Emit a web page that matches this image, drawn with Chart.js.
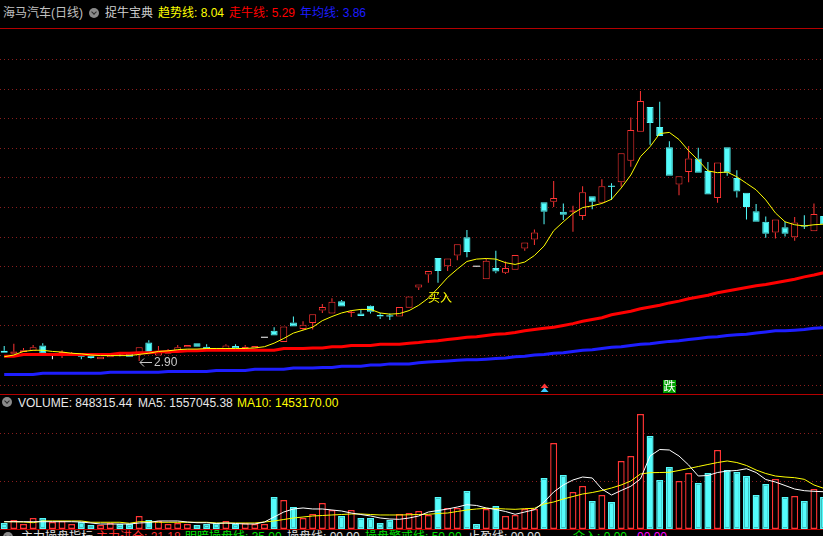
<!DOCTYPE html>
<html>
<head>
<meta charset="utf-8">
<script src="https://cdn.jsdelivr.net/npm/chart.js@4.4.1/dist/chart.umd.min.js"></script>
<style>
  html, body { margin: 0; padding: 0; background: #000; width: 823px; height: 536px; overflow: hidden; }
  body { position: relative; font: 12px "Liberation Sans", "Noto Sans CJK SC", sans-serif; color: #c0c0c0; }
  .row { position: absolute; left: 0; width: 823px; height: 14px; line-height: 14px; white-space: nowrap; }
  .row span { position: absolute; top: 0; }
  .hline { position: absolute; left: 0; width: 823px; height: 1px; background: #b40000; }
  .icon { position: absolute; width: 10px; height: 10px; border-radius: 50%; background: #8a8a8a; }
  .icon::after { content: ''; position: absolute; left: 3px; top: 1.5px; width: 3px; height: 3px;
    border-right: 1.5px solid #2a2a2a; border-bottom: 1.5px solid #2a2a2a; transform: rotate(45deg); }
  #priceBox { position: absolute; left: 0; top: 29px; }
  #volBox { position: absolute; left: 0; top: 395px; }
</style>
</head>
<body>
<div class="row" style="top:6px">
  <span style="left:3px;color:#c0c0c0">海马汽车(日线)</span>
  <i class="icon" style="left:89px;top:2px"></i>
  <span style="left:105px;color:#d0d0d0">捉牛宝典</span>
  <span style="left:158px;color:#ffff00">趋势线: 8.04</span>
  <span style="left:229px;color:#ff0000">走牛线: 5.29</span>
  <span style="left:300px;color:#1c1cff">年均线: 3.86</span>
</div>
<div class="hline" style="top:28px"></div>
<canvas id="priceBox" width="823" height="364"></canvas>
<div class="hline" style="top:394px"></div>
<div class="row" style="top:396px">
  <i class="icon" style="left:2px;top:1px"></i>
  <span style="left:18px;color:#e8e8e8">VOLUME: 848315.44</span>
  <span style="left:138px;color:#e8e8e8">MA5: 1557045.38</span>
  <span style="left:237px;color:#ffff00">MA10: 1453170.00</span>
</div>
<canvas id="volBox" width="823" height="134"></canvas>
<div class="hline" style="top:529px"></div>
<div class="row" style="top:530px">
  <i class="icon" style="left:3px;top:2px"></i>
  <span style="left:21px;color:#e0e0e0">主力操盘指标</span>
  <span style="left:96px;color:#ff3030">主力进仓: 21.18</span>
  <span style="left:185px;color:#00e000">明暗操盘线: 35.00</span>
  <span style="left:287px;color:#e0e0e0">操盘线: 00.00</span>
  <span style="left:365px;color:#00e000">操盘警戒线: 50.00</span>
  <span style="left:468px;color:#e0e0e0">止盈线: 00.00</span>
  <span style="left:573px;color:#00e000">介入: 0.00</span>
  <span style="left:637px;color:#ff00ff">00.00</span>
</div>

<script>
// daily bars, oldest first
const opens = [3.07, 3.02, 3.05, 3.07, 3.16, 3.01, 3.00, 2.99, 3.00, 2.99,
  2.93, 2.96, 3.02, 3.02, 3.04, 3.21, 2.99, 3.02, 3.07, 3.13,
  3.20, 3.14, 3.11, 3.10, 3.15, 3.11, 3.11, 3.30, 3.41, 3.22,
  3.55, 3.44, 3.54, 3.75, 3.70, 3.91, 3.71, 3.70, 3.83, 3.68,
  3.67, 3.65, 3.80, 4.14, 4.36, 4.64, 4.50, 4.68, 4.99, 4.50,
  4.28, 4.47, 4.39, 4.44, 4.80, 4.95, 5.58, 5.59, 5.42, 5.42,
  5.35, 5.68, 5.57, 5.86, 5.92, 6.28, 6.77, 7.19, 6.85, 6.51,
  5.88, 6.09, 6.32, 6.11, 5.65, 6.51, 5.99, 5.74, 5.43, 5.25,
  5.07, 5.16, 4.99, 5.19, 5.09, 5.35];
const closes = [3.04, 3.06, 3.08, 3.13, 3.02, 3.01, 3.05, 3.03, 2.97, 2.95,
  2.97, 3.03, 3.02, 2.97, 3.13, 3.04, 3.07, 3.05, 3.13, 3.17,
  3.14, 3.09, 3.10, 3.16, 3.11, 3.14, 3.15, 3.30, 3.33, 3.48,
  3.48, 3.51, 3.69, 3.81, 3.90, 3.82, 3.72, 3.66, 3.73, 3.65,
  3.66, 3.81, 3.99, 4.19, 4.42, 4.42, 4.63, 4.87, 4.74, 4.50,
  4.59, 4.41, 4.47, 4.69, 4.90, 5.07, 5.42, 5.65, 5.37, 5.43,
  5.75, 5.59, 5.85, 5.85, 6.41, 6.80, 7.29, 6.92, 6.70, 6.03,
  6.02, 6.32, 6.08, 5.71, 6.25, 6.08, 5.76, 5.50, 5.25, 5.05,
  5.29, 5.05, 5.24, 5.18, 5.38, 5.21];
const highs = [3.15, 3.19, 3.12, 3.17, 3.20, 3.03, 3.08, 3.05, 3.00, 2.99,
  2.97, 3.03, 3.04, 3.02, 3.13, 3.25, 3.15, 3.10, 3.17, 3.17,
  3.20, 3.18, 3.12, 3.18, 3.18, 3.17, 3.15, 3.30, 3.47, 3.48,
  3.65, 3.57, 3.69, 3.86, 3.96, 3.93, 3.75, 3.76, 3.84, 3.71,
  3.70, 3.81, 3.99, 4.19, 4.42, 4.64, 4.63, 4.87, 5.11, 4.50,
  4.62, 4.76, 4.58, 4.69, 4.90, 5.12, 5.58, 5.94, 5.56, 5.52,
  5.85, 5.68, 5.97, 5.90, 6.41, 7.01, 7.46, 7.19, 7.28, 6.61,
  6.02, 6.53, 6.50, 6.26, 6.25, 6.51, 6.12, 5.74, 5.55, 5.34,
  5.29, 5.25, 5.33, 5.36, 5.56, 5.35];
const lows = [3.04, 3.02, 3.05, 3.07, 3.02, 2.93, 2.95, 2.99, 2.93, 2.94,
  2.93, 2.96, 2.98, 2.97, 2.90, 3.04, 2.99, 3.02, 3.07, 3.13,
  3.14, 3.09, 3.09, 3.10, 3.11, 3.08, 3.11, 3.30, 3.33, 3.22,
  3.48, 3.42, 3.43, 3.71, 3.70, 3.82, 3.64, 3.66, 3.70, 3.61,
  3.59, 3.65, 3.80, 4.10, 4.22, 4.22, 4.42, 4.60, 4.65, 4.50,
  4.28, 4.38, 4.37, 4.44, 4.76, 4.86, 5.21, 5.50, 5.28, 5.08,
  5.28, 5.46, 5.57, 5.62, 5.84, 6.18, 6.77, 6.55, 6.70, 6.03,
  5.70, 5.92, 6.08, 5.71, 5.57, 6.03, 5.66, 5.29, 5.25, 4.98,
  4.97, 5.00, 4.93, 5.13, 5.09, 5.21];
const volumes = [125000, 187500, 104000, 229000, 229000, 146000, 167000, 104000, 146000, 83000,
  83000, 125000, 104000, 104000, 271000, 188000, 167000, 104000, 125000, 104000,
  83000, 104000, 125000, 167000, 104000, 125000, 104000, 104000, 667000, 604000,
  458000, 229000, 313000, 542000, 396000, 271000, 396000, 229000, 229000, 125000,
  188000, 313000, 333000, 375000, 292000, 667000, 438000, 438000, 792000, 104000,
  417000, 479000, 271000, 292000, 417000, 417000, 1063000, 1792000, 1125000, 771000,
  896000, 583000, 708000, 563000, 1417000, 1521000, 2396000, 1938000, 1021000, 1292000,
  1000000, 1167000, 958000, 1167000, 1646000, 1229000, 1188000, 1104000, 708000, 938000,
  1042000, 667000, 688000, 583000, 833000, 667000];
// flat days whose volume bar is drawn as an up day
const flatUpVolume = [5, 27];

// indicator lines of 捉牛宝典
const trendLine = [2.97, 3.00, 3.06, 3.08, 3.08, 3.06, 3.05, 3.03, 3.02, 3.00,
  2.99, 2.99, 2.99, 2.99, 3.01, 3.03, 3.06, 3.07, 3.09, 3.10,
  3.10, 3.11, 3.11, 3.11, 3.11, 3.11, 3.12, 3.14, 3.20, 3.28,
  3.37, 3.42, 3.47, 3.58, 3.65, 3.71, 3.75, 3.77, 3.77, 3.71,
  3.69, 3.70, 3.75, 3.84, 3.96, 4.13, 4.31, 4.45, 4.58, 4.62,
  4.63, 4.62, 4.56, 4.53, 4.57, 4.68, 4.84, 5.10, 5.25, 5.39,
  5.49, 5.52, 5.56, 5.63, 5.82, 6.04, 6.35, 6.52, 6.74, 6.76,
  6.64, 6.45, 6.29, 6.11, 6.08, 6.09, 6.01, 5.90, 5.79, 5.62,
  5.40, 5.25, 5.20, 5.18, 5.20, 5.21];
const bullLine = [2.98, 2.98, 3.01, 3.01, 3.01, 3.01, 3.01, 3.01, 3.01, 3.01,
  3.01, 3.01, 3.03, 3.03, 3.04, 3.04, 3.05, 3.06, 3.06, 3.07,
  3.07, 3.08, 3.08, 3.08, 3.08, 3.08, 3.08, 3.08, 3.08, 3.11,
  3.11, 3.11, 3.12, 3.12, 3.14, 3.14, 3.16, 3.16, 3.16, 3.18,
  3.18, 3.18, 3.20, 3.21, 3.23, 3.24, 3.26, 3.28, 3.30, 3.31,
  3.33, 3.35, 3.36, 3.38, 3.41, 3.43, 3.45, 3.47, 3.50, 3.53,
  3.57, 3.60, 3.63, 3.68, 3.71, 3.74, 3.78, 3.81, 3.84, 3.88,
  3.91, 3.95, 3.98, 4.01, 4.05, 4.08, 4.11, 4.14, 4.17, 4.19,
  4.22, 4.25, 4.28, 4.32, 4.35, 4.39];
const yearLine = [2.67, 2.67, 2.67, 2.67, 2.69, 2.69, 2.69, 2.69, 2.69, 2.69,
  2.69, 2.71, 2.71, 2.71, 2.71, 2.71, 2.71, 2.72, 2.72, 2.72,
  2.72, 2.72, 2.74, 2.74, 2.74, 2.74, 2.76, 2.76, 2.76, 2.76,
  2.78, 2.78, 2.78, 2.79, 2.79, 2.81, 2.81, 2.81, 2.83, 2.83,
  2.85, 2.85, 2.85, 2.87, 2.88, 2.89, 2.90, 2.91, 2.92, 2.92,
  2.93, 2.94, 2.95, 2.97, 2.98, 3.00, 3.01, 3.03, 3.04, 3.06,
  3.08, 3.09, 3.11, 3.13, 3.14, 3.16, 3.18, 3.19, 3.21, 3.23,
  3.24, 3.26, 3.28, 3.30, 3.31, 3.33, 3.34, 3.35, 3.37, 3.39,
  3.41, 3.41, 3.42, 3.43, 3.45, 3.46];
const volMa5 = [152000, 152000, 152000, 152000, 152000, 152000, 152000, 152000, 146000, 125000,
  104000, 104000, 104000, 104000, 125000, 135000, 167000, 167000, 167000, 146000,
  131000, 131000, 115000, 125000, 115000, 104000, 104000, 146000, 250000, 354000,
  417000, 438000, 417000, 417000, 396000, 375000, 333000, 302000, 271000, 229000,
  208000, 202000, 229000, 271000, 354000, 385000, 417000, 458000, 506000, 490000,
  438000, 406000, 365000, 306000, 354000, 402000, 563000, 771000, 917000, 1021000,
  1083000, 1063000, 833000, 708000, 802000, 890000, 1042000, 1521000, 1656000, 1646000,
  1521000, 1333000, 1104000, 1115000, 1177000, 1208000, 1219000, 1256000, 1177000, 1031000,
  979000, 906000, 833000, 798000, 785000, 777000];
const volMa10 = [152000, 152000, 146000, 131000, 167000, 167000, 167000, 167000, 167000, 140000,
  140000, 140000, 140000, 119000, 152000, 152000, 140000, 140000, 140000, 140000,
  140000, 140000, 125000, 125000, 125000, 125000, 125000, 146000, 167000, 198000,
  229000, 250000, 271000, 281000, 292000, 302000, 313000, 313000, 302000, 292000,
  292000, 292000, 296000, 302000, 306000, 323000, 333000, 365000, 396000, 417000,
  431000, 427000, 417000, 410000, 423000, 431000, 521000, 563000, 625000, 677000,
  729000, 760000, 802000, 854000, 917000, 1000000, 1146000, 1173000, 1177000, 1181000,
  1219000, 1260000, 1302000, 1344000, 1385000, 1417000, 1385000, 1323000, 1229000, 1156000,
  1104000, 1083000, 1069000, 1035000, 917000, 848000];

const priceGrid = [2.5, 3.0, 3.5, 4.0, 4.5, 5.0, 5.5, 6.0, 6.5, 7.0, 7.5, 8.0];
const volumeGrid = [1000000, 2000000];
const buyIndex = 45;
const buyLabelPrice = 3.98;
const riseMarkIndex = 56;
const fallMarkIndex = 69;

const RED = '#ff3434';
const CYAN = '#54fcfc';
const WHITE = '#ffffff';

const idx = opens.map((_, i) => i);
const isFlat = i => Math.abs(opens[i] - closes[i]) < 0.015;
const candleColor = i => closes[i] > opens[i] ? RED : (closes[i] < opens[i] ? CYAN : WHITE);

const xAxis = { type: 'linear', display: false, offset: false, bounds: 'ticks', min: -0.436, max: 84.938,
  grid: { offset: false } };

const dottedGrid = {
  id: 'dottedGrid',
  beforeDatasetsDraw(chart, args, opts) {
    const { ctx, chartArea, scales: { y } } = chart;
    ctx.save();
    ctx.strokeStyle = '#8a1e1e';
    ctx.lineWidth = 1;
    ctx.setLineDash([1, 3]);
    opts.values.forEach(v => {
      const py = Math.round(y.getPixelForValue(v)) + 0.5;
      ctx.beginPath();
      ctx.moveTo(chartArea.left, py);
      ctx.lineTo(chartArea.right, py);
      ctx.stroke();
    });
    ctx.restore();
  }
};

const priceMarks = {
  id: 'priceMarks',
  afterDatasetsDraw(chart) {
    const { ctx, chartArea, scales: { x, y } } = chart;
    ctx.save();
    // buy signal text
    ctx.font = '12px "Noto Sans CJK SC", sans-serif';
    ctx.fillStyle = '#ffff00';
    ctx.textAlign = 'center';
    ctx.textBaseline = 'middle';
    ctx.fillText('买入', x.getPixelForValue(buyIndex) + 2, y.getPixelForValue(buyLabelPrice));

    // lowest low marker
    const lo = Math.min(...lows);
    const li = lows.indexOf(lo);
    const ax = Math.round(x.getPixelForValue(li)) + 1;
    const ay = Math.round(y.getPixelForValue(lo)) + 1.5;
    ctx.strokeStyle = '#c8c8c8';
    ctx.lineWidth = 1;
    ctx.beginPath();
    ctx.moveTo(ax, ay); ctx.lineTo(ax + 12, ay);
    ctx.moveTo(ax + 4, ay - 4); ctx.lineTo(ax, ay); ctx.lineTo(ax + 4, ay + 4);
    ctx.stroke();
    ctx.font = '12px "Liberation Sans", sans-serif';
    ctx.fillStyle = '#c8c8c8';
    ctx.textAlign = 'left';
    ctx.fillText(lo.toFixed(2), ax + 14, ay);

    // rise mark: red over cyan triangle
    const rx = x.getPixelForValue(riseMarkIndex) + 0.5;
    const base = chartArea.bottom;
    ctx.fillStyle = RED;
    ctx.beginPath();
    ctx.moveTo(rx, base - 9.5); ctx.lineTo(rx + 4, base - 5); ctx.lineTo(rx - 4, base - 5); ctx.closePath();
    ctx.fill();
    ctx.fillStyle = '#3cc8ff';
    ctx.beginPath();
    ctx.moveTo(rx, base - 5.5); ctx.lineTo(rx + 4, base - 1); ctx.lineTo(rx - 4, base - 1); ctx.closePath();
    ctx.fill();

    // fall mark: green box with 跌
    const fx = x.getPixelForValue(fallMarkIndex);
    ctx.fillStyle = '#00a000';
    ctx.fillRect(Math.round(fx) - 6, base - 13, 13, 13);
    ctx.fillStyle = '#ffffff';
    ctx.font = '12px "Noto Sans CJK SC", sans-serif';
    ctx.textAlign = 'center';
    ctx.fillText('跌', Math.round(fx) + 0.5, base - 6.5);
    ctx.restore();
  }
};

const bodyIdx = idx.filter(i => !isFlat(i));
const flatIdx = idx.filter(i => isFlat(i));
const upperIdx = idx.filter(i => highs[i] > Math.max(opens[i], closes[i]));
const lowerIdx = idx.filter(i => lows[i] < Math.min(opens[i], closes[i]));

const barCommon = { type: 'bar', grouped: false, borderSkipped: false, inflateAmount: 0 };

new Chart(document.getElementById('priceBox'), {
  type: 'bar',
  data: {
    datasets: [
      { type: 'line', label: '趋势线', data: idx.map(i => ({ x: i, y: trendLine[i] })),
        borderColor: '#ffff00', borderWidth: 1, pointRadius: 0, tension: 0, order: 0 },
      { type: 'line', label: '走牛线', data: idx.map(i => ({ x: i, y: bullLine[i] })),
        borderColor: '#ff0000', borderWidth: 3, pointRadius: 0, tension: 0, order: 1 },
      { type: 'line', label: '年均线', data: idx.map(i => ({ x: i, y: yearLine[i] })),
        borderColor: '#1e1eff', borderWidth: 3, pointRadius: 0, tension: 0, order: 2 },
      { ...barCommon, label: 'body', order: 3,
        data: bodyIdx.map(i => ({ x: i, y: [opens[i], closes[i]] })),
        barThickness: 7, borderWidth: 1,
        borderColor: bodyIdx.map(candleColor),
        backgroundColor: bodyIdx.map(i => closes[i] > opens[i] ? '#000000' : CYAN) },
      { type: 'line', label: 'flat', order: 3, showLine: false,
        data: flatIdx.map(i => ({ x: i, y: closes[i] })),
        pointStyle: 'line', pointRadius: 3.5, pointBorderWidth: 1,
        pointBorderColor: flatIdx.map(candleColor), pointBackgroundColor: flatIdx.map(candleColor) },
      { ...barCommon, label: 'upper', order: 4,
        data: upperIdx.map(i => ({ x: i, y: [Math.max(opens[i], closes[i]), highs[i]] })),
        barThickness: 1, borderWidth: 0, backgroundColor: upperIdx.map(candleColor) },
      { ...barCommon, label: 'lower', order: 4,
        data: lowerIdx.map(i => ({ x: i, y: [lows[i], Math.min(opens[i], closes[i])] })),
        barThickness: 1, borderWidth: 0, backgroundColor: lowerIdx.map(candleColor) }
    ]
  },
  options: {
    responsive: false,
    animation: false,
    events: [],
    layout: { padding: 0, autoPadding: false },
    scales: {
      x: xAxis,
      y: { type: 'linear', display: false, min: 2.3581, max: 8.5068 }
    },
    plugins: {
      legend: { display: false },
      tooltip: { enabled: false },
      dottedGrid: { values: priceGrid }
    }
  },
  plugins: [dottedGrid, priceMarks]
});

const volUp = i => closes[i] > opens[i] || (closes[i] === opens[i] && flatUpVolume.includes(i));

new Chart(document.getElementById('volBox'), {
  type: 'bar',
  data: {
    datasets: [
      { type: 'line', label: 'MA5', data: idx.map(i => ({ x: i, y: volMa5[i] })),
        borderColor: '#ffffff', borderWidth: 1, pointRadius: 0, tension: 0, order: 0 },
      { type: 'line', label: 'MA10', data: idx.map(i => ({ x: i, y: volMa10[i] })),
        borderColor: '#ffff00', borderWidth: 1, pointRadius: 0, tension: 0, order: 1 },
      { ...barCommon, label: 'VOLUME', order: 2,
        data: idx.map(i => ({ x: i, y: volumes[i] })),
        barThickness: 7, borderWidth: 1.4,
        borderColor: idx.map(i => volUp(i) ? RED : CYAN),
        backgroundColor: idx.map(i => volUp(i) ? '#000000' : CYAN) }
    ]
  },
  options: {
    responsive: false,
    animation: false,
    events: [],
    layout: { padding: 0, autoPadding: false },
    scales: {
      x: xAxis,
      y: { type: 'linear', display: false, min: 0, max: 2791667 }
    },
    plugins: {
      legend: { display: false },
      tooltip: { enabled: false },
      dottedGrid: { values: volumeGrid }
    }
  },
  plugins: [dottedGrid]
});
</script>
</body>
</html>
